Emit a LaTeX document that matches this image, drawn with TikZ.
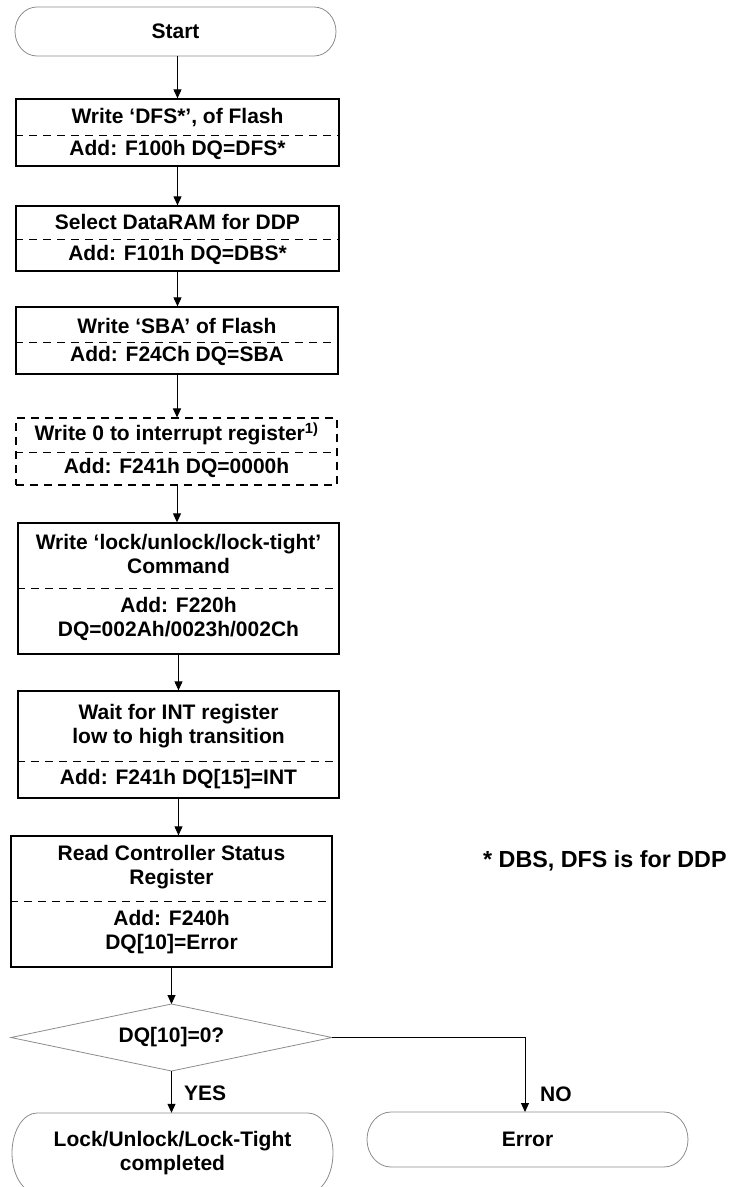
\documentclass[tikz,border=0pt]{standalone}
\usepackage{fontspec}
\setmainfont{Liberation Sans}
\usetikzlibrary{arrows.meta}
\begin{document}
\begin{tikzpicture}[x=1pt,y=1pt,
  every node/.style={font=\bfseries\fontsize{21}{24}\selectfont, inner sep=0pt, align=center},
  box/.style={draw, line width=1.3pt},
  dbox/.style={draw, line width=1.1pt, dash pattern=on 8pt off 6pt},
  sep/.style={line width=1pt, dash pattern=on 8pt off 6pt},
  term/.style={draw=black!45, line width=0.8pt},
  arr/.style={-{Triangle[length=9pt,width=8pt]}, line width=1pt},
  lbl/.style={anchor=west}]
\useasboundingbox (0,0) rectangle (734,-1187);
\clip (0,0) rectangle (734,-1187);

% Start terminal
\node[minimum width=321, minimum height=49] (start) at (175.5,-31.5) {Start};
\draw[term] (37,-7) -- (314,-7) arc[start angle=90,end angle=-90,x radius=22,y radius=24.5]
  -- (37,-56) arc[start angle=270,end angle=90,x radius=22,y radius=24.5] -- cycle;

% Box 1
\node[box, minimum width=323, minimum height=67] (b1) at (177.5,-132.5) {};
\draw[sep] (b1.west |- 0,-135) -- (b1.east |- 0,-135);
\node (b1t) at (177.5,-118) {Write ‘DFS*’, of Flash};
\node (b1b) at (177.5,-150) {Add: F100h DQ=DFS*};

% Box 2
\node[box, minimum width=323, minimum height=65] (b2) at (177.5,-238.5) {};
\draw[sep] (b2.west |- 0,-239) -- (b2.east |- 0,-239);
\node (b2t) at (177.5,-222) {Select DataRAM for DDP};
\node (b2b) at (177.5,-255) {Add: F101h DQ=DBS*};

% Box 3
\node[box, minimum width=322, minimum height=67] (b3) at (177,-340.5) {};
\draw[sep] (b3.west |- 0,-342) -- (b3.east |- 0,-342);
\node (b3t) at (177,-326) {Write ‘SBA’ of Flash};
\node (b3b) at (177,-356) {Add: F24Ch DQ=SBA};

% Box 4 (dashed)
\node[dbox, minimum width=321, minimum height=67] (b4) at (176.5,-451.5) {};
\draw[sep] (b4.west |- 0,-452) -- (b4.east |- 0,-452);
\node (b4t) at (176.5,-434) {Write 0 to interrupt register\textsuperscript{1)}};
\node (b4b) at (176.5,-468) {Add: F241h DQ=0000h};

% Box 5
\node[box, minimum width=321, minimum height=131] (b5) at (178.5,-588.5) {};
\draw[sep] (b5.west |- 0,-588) -- (b5.east |- 0,-588);
\node (b5t) at (178.5,-554) {Write ‘lock/unlock/lock-tight’\\Command};
\node (b5b) at (178.5,-619) {Add: F220h\\DQ=002Ah/0023h/002Ch};

% Box 6
\node[box, minimum width=321, minimum height=107] (b6) at (178.5,-744.5) {};
\draw[sep] (b6.west |- 0,-761) -- (b6.east |- 0,-761);
\node (b6t) at (178.5,-726) {Wait for INT register\\low to high transition};
\node (b6b) at (178.5,-779) {Add: F241h DQ[15]=INT};

% Box 7
\node[box, minimum width=321, minimum height=131] (b7) at (171.5,-901.5) {};
\draw[sep] (b7.west |- 0,-901) -- (b7.east |- 0,-901);
\node (b7t) at (171.5,-867) {Read Controller Status\\Register};
\node (b7b) at (171.5,-932) {Add: F240h\\DQ[10]=Error};

% Note
\node[anchor=west, font=\bfseries\fontsize{23.3}{27}\selectfont] (note) at (483,-861) {* DBS, DFS is for DDP};

% Decision diamond
\node (dia) at (171.5,-1037.5) {DQ[10]=0?};
\coordinate (dl) at (11,-1037.5);
\coordinate (dt) at (171.5,-1004);
\coordinate (dr) at (332,-1037.5);
\coordinate (db) at (171.5,-1071);
\draw[term] (dl) -- (dt) -- (dr) -- (db) -- cycle;

% Lock terminal
\node[minimum width=321, minimum height=80] (lock) at (172.5,-1153) {Lock/Unlock/Lock-Tight\\completed};
\draw[term] (37,-1113) -- (308,-1113) arc[start angle=90,end angle=-90,x radius=25,y radius=40]
  -- (37,-1193) arc[start angle=270,end angle=90,x radius=25,y radius=40] -- cycle;

% Error terminal
\node[minimum width=321, minimum height=55] (err) at (527.5,-1139.5) {Error};
\draw[term] (391,-1112) -- (664,-1112) arc[start angle=90,end angle=-90,x radius=24,y radius=27.5]
  -- (391,-1167) arc[start angle=270,end angle=90,x radius=24,y radius=27.5] -- cycle;

% Connectors
\draw[arr] (start.south -| b1.north) -- (b1.north);
\draw[arr] (b1.south) -- (b2.north);
\draw[arr] (b2.south) -- (b2.south |- b3.north);
\draw[arr] (b3.south) -- (b3.south |- b4.north);
\draw[arr] (b4.south -| b3.south) -- (b3.south |- b5.north);
\draw[arr] (b5.south) -- (b6.north);
\draw[arr] (b6.south) -- (b6.south |- b7.north);
\draw[arr] (b7.south) -- (dt);
\draw[arr] (db) -- (db |- lock.north);
\draw[arr] (dr) -| (525,-1112);

% Labels
\node[lbl] (yes) at (184,-1093) {YES};
\node[lbl] (no) at (540,-1094) {NO};
\end{tikzpicture}
\end{document}
